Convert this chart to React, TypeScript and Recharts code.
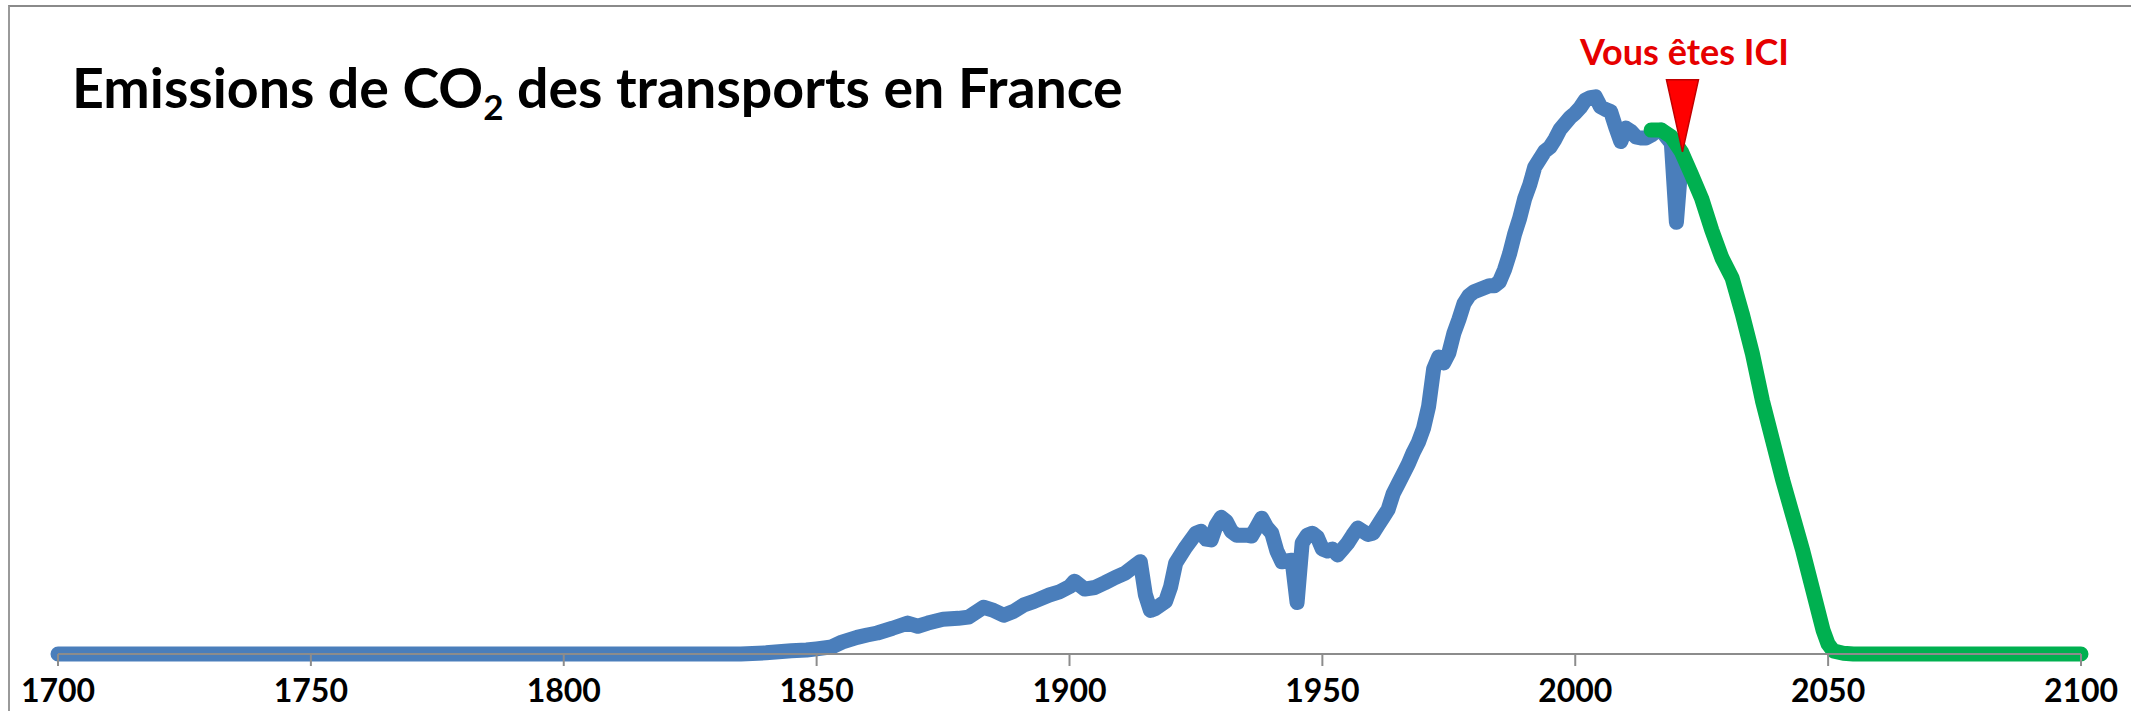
import { LineChart, Line, XAxis, YAxis, ReferenceDot } from "recharts";

const FONT = "Lato, 'Open Sans', sans-serif";

const TITLE_START = "Emissions de CO";
const TITLE_SUB = "2";
const TITLE_END = " des transports en France";
const HERE_LABEL = "Vous êtes ICI";

const YEAR_TICKS = [1700, 1750, 1800, 1850, 1900, 1950, 2000, 2050, 2100];

// historique (bleu), échelle arbitraire (pic ~140)
const HIST_YEARS = [
  1700, 1835, 1840, 1845, 1848, 1850, 1853, 1855, 1858, 1860, 1862, 1865, 1868, 1870,
  1872, 1875, 1878, 1880, 1883, 1885, 1887, 1889, 1891, 1893, 1896, 1898, 1900, 1901,
  1903, 1905, 1907, 1909, 1911, 1913, 1914, 1915, 1916, 1917, 1919, 1920, 1921, 1923,
  1925, 1926, 1927, 1928, 1929, 1930, 1931, 1932, 1933, 1935, 1936, 1937, 1938, 1939,
  1940, 1941, 1942, 1943, 1944, 1945, 1946, 1947, 1948, 1949, 1950, 1951, 1952, 1953,
  1954, 1955, 1956, 1957, 1958, 1959, 1960, 1961, 1962, 1963, 1964, 1965, 1966, 1967,
  1968, 1969, 1970, 1971, 1972, 1973, 1974, 1975, 1976, 1977, 1978, 1979, 1980, 1981,
  1982, 1983, 1984, 1985, 1986, 1987, 1988, 1989, 1990, 1991, 1992, 1993, 1994, 1995,
  1996, 1997, 1998, 1999, 2000, 2001, 2002, 2003, 2004, 2005, 2006, 2007, 2008, 2009,
  2010, 2011, 2012, 2013, 2014, 2015, 2016, 2017, 2018, 2019, 2020, 2021,
];
const HIST_VALUES = [
  0, 0, 0.3, 0.8, 1.0, 1.3, 1.8, 3.0, 4.2, 4.8, 5.3, 6.5, 7.8, 7.0,
  7.8, 8.8, 9.0, 9.3, 11.8, 11.0, 9.8, 10.8, 12.4, 13.3, 14.9, 15.7, 17.0, 18.4,
  16.4, 16.8, 18.0, 19.3, 20.4, 22.4, 23.3, 15.0, 11.0, 11.5, 13.3, 17.0, 23.0, 27.0,
  30.5, 31.0, 29.0, 28.8, 32.5, 34.5, 33.5, 31.0, 30.0, 30.0, 29.8, 32.0, 34.3, 32.0,
  30.5, 26.0, 23.3, 23.5, 23.7, 13.0, 28.0, 30.0, 30.5, 29.5, 26.5, 26.0, 26.5, 25.0,
  26.5, 28.0, 30.0, 31.8, 31.0, 30.2, 30.5, 32.5, 34.5, 36.5, 40.5, 43.0, 45.5, 48.0,
  51.0, 53.5, 57.0, 62.5, 72.0, 75.0, 73.5, 76.0, 81.0, 84.5, 88.5, 90.5, 91.5, 92.0,
  92.5, 93.0, 93.0, 94.0, 97.0, 101.0, 106.0, 110.0, 115.0, 118.5, 123.0, 125.0, 127.0, 128.0,
  130.0, 132.5, 134.0, 135.5, 136.6, 138.0, 139.9, 140.5, 140.7, 138.2, 137.5, 137.0, 133.0, 129.4,
  132.8, 132.0, 130.6, 130.3, 130.3, 131.0, 132.0, 132.3, 130.6, 129.0, 109.0, 125.0,
];

// scénario (vert)
const SCEN_YEARS = [
  2015, 2017, 2019, 2021, 2023, 2025, 2027, 2029, 2031, 2033, 2035, 2037, 2039, 2041,
  2043, 2045, 2047, 2049, 2050, 2051, 2053, 2055, 2100,
];
const SCEN_VALUES = [
  132.3, 132.3, 130.6, 126.8, 121, 115, 107, 100, 95, 86, 76, 64, 54, 44,
  35, 26, 16, 6, 2.5, 0.8, 0.2, 0, 0,
];

const HERE_YEAR = 2021.2;
const HERE_VALUE = 126.8;

type Row = { year: number; hist?: number; scen?: number };

function buildRows(): Row[] {
  const byYear = new Map<number, Row>();
  HIST_YEARS.forEach((y, i) => {
    byYear.set(y, { ...(byYear.get(y) ?? { year: y }), hist: HIST_VALUES[i] });
  });
  SCEN_YEARS.forEach((y, i) => {
    byYear.set(y, { ...(byYear.get(y) ?? { year: y }), scen: SCEN_VALUES[i] });
  });
  return [...byYear.values()].sort((a, b) => a.year - b.year);
}

// triangle rouge pointé vers le bas + texte au-dessus
function HereMarker(props: any) {
  const { cx, cy } = props;
  if (cx == null || cy == null) return null;
  return (
    <g>
      <polygon
        points={`${cx - 16},${cy - 72} ${cx + 16},${cy - 72} ${cx},${cy}`}
        fill="#FF0000"
        stroke="#C00000"
        strokeWidth={1.5}
      />
      <text
        x={cx + 2}
        y={cy - 87}
        textAnchor="middle"
        fill="#E60000"
        fontFamily={FONT}
        fontWeight={700}
        fontSize={36}
      >
        {HERE_LABEL}
      </text>
    </g>
  );
}

export default function App() {
  const rows = buildRows();
  return (
    <div style={{ position: "absolute", left: 0, top: 0, width: 2131, height: 711, background: "#fff", overflow: "hidden" }}>
      <div
        style={{
          position: "absolute",
          left: 8,
          top: 5,
          right: -10,
          bottom: -10,
          borderLeft: "2px solid #9a9a9a",
          borderTop: "2px solid #8a8a8a",
        }}
      />
      <LineChart
        width={2131}
        height={711}
        data={rows}
        margin={{ top: 60, right: 50, left: 58, bottom: 0 }}
      >
        <XAxis
          dataKey="year"
          type="number"
          domain={[1700, 2100]}
          ticks={YEAR_TICKS}
          interval={0}
          height={57}
          tickSize={12}
          tickMargin={13}
          axisLine={{ stroke: "#8c8c8c", strokeWidth: 2 }}
          tickLine={{ stroke: "#8c8c8c", strokeWidth: 2 }}
          tick={{ fill: "#000", fontSize: 32, fontWeight: 700, fontFamily: FONT }}
        />
        <YAxis hide width={0} domain={[0, 150]} type="number" />
        <Line
          dataKey="hist"
          type="linear"
          stroke="#4A7EBB"
          strokeWidth={15}
          strokeLinejoin="round"
          strokeLinecap="round"
          dot={false}
          activeDot={false}
          connectNulls
          isAnimationActive={false}
        />
        <Line
          dataKey="scen"
          type="linear"
          stroke="#00B050"
          strokeWidth={15}
          strokeLinejoin="round"
          strokeLinecap="round"
          dot={false}
          activeDot={false}
          connectNulls
          isAnimationActive={false}
        />
        <ReferenceDot x={HERE_YEAR} y={HERE_VALUE} r={0} shape={HereMarker} ifOverflow="visible" />
      </LineChart>
      <div
        style={{
          position: "absolute",
          left: 72,
          top: 60,
          fontFamily: FONT,
          fontWeight: 700,
          fontSize: 55.5,
          lineHeight: "53px",
          color: "#000",
          whiteSpace: "nowrap",
        }}
      >
        {TITLE_START}
        <span style={{ fontSize: 35, position: "relative", top: 12 }}>{TITLE_SUB}</span>
        {TITLE_END}
      </div>
    </div>
  );
}
